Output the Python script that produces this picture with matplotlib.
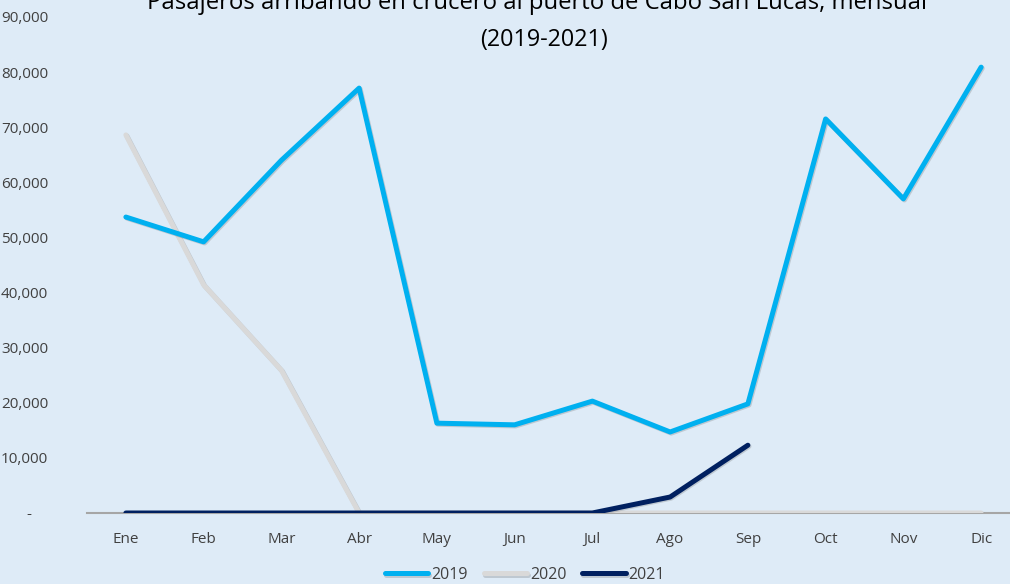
import matplotlib
matplotlib.use("Agg")
import matplotlib.pyplot as plt
import matplotlib.patheffects as pe
from matplotlib.ticker import FuncFormatter
import numpy as np

months = ["Ene", "Feb", "Mar", "Abr", "May", "Jun", "Jul", "Ago", "Sep", "Oct", "Nov", "Dic"]
s2019 = [53700, 49200, 64000, 77100, 16300, 16000, 20300, 14700, 19800, 71500, 57000, 80900]
s2020 = [68600, 41400, 25900, 0, 0, 0, 0, 0, 0, 0, 0, 0]
s2021 = [0, 0, 0, 0, 0, 0, 0, 2900, 12300]
yticks = list(range(0, 90001, 10000))

plt.rcParams['font.family'] = ['Open Sans', 'DejaVu Sans']

bg = "#deebf7"
fig = plt.figure(figsize=(10.1, 5.84), dpi=100, facecolor=bg)
W, H = 1010, 584
left, right, top, bottom = 87, 1020, 17, 513
ax = fig.add_axes([left / W, (H - bottom) / H, (right - left) / W, (bottom - top) / H])
ax.set_facecolor(bg)

x = np.arange(len(months))
shadow = [pe.SimpleLineShadow(offset=(0.8, -0.8), alpha=0.25, shadow_color="#606060"), pe.Normal()]
l1, = ax.plot(x, s2019, color="#00b0f0", lw=3.6, solid_capstyle="round", solid_joinstyle="round",
              path_effects=shadow, label="2019", zorder=3)
l2, = ax.plot(x, s2020, color="#d9d9d9", lw=3.6, solid_capstyle="round", solid_joinstyle="round",
              path_effects=shadow, label="2020", zorder=2)
l3, = ax.plot(x[:len(s2021)], s2021, color="#002060", lw=3.6, solid_capstyle="round", solid_joinstyle="round",
              path_effects=shadow, label="2021", zorder=4)

ax.set_xlim(-0.5, len(months) - 0.5)
ax.set_ylim(0, 90000)
ax.set_xticks(x)
ax.set_xticklabels(months)
ax.set_yticks(yticks)
ax.yaxis.set_major_formatter(FuncFormatter(lambda v, p: "-    " if v == 0 else f"{int(v):,}"))
for s in ["top", "right", "left"]:
    ax.spines[s].set_visible(False)
ax.spines["bottom"].set_color("#a6a6a6")
ax.spines["bottom"].set_linewidth(1.5)
ax.spines["bottom"].set_zorder(1)
ax.tick_params(axis="both", length=0, labelsize=11, colors="#404040")
ax.tick_params(axis="x", pad=14)
ax.tick_params(axis="y", pad=28)

fig.text(537 / W, 1 - 3 / H, "Pasajeros arribando en crucero al puerto de Cabo San Lucas, mensual",
         ha="center", va="center", fontsize=17.2, color="#000000")
fig.text(544 / W, 1 - 40 / H, "(2019-2021)", ha="center", va="center", fontsize=16.8, color="#000000")

leg = fig.legend(handles=[l1, l2, l3], loc="center", bbox_to_anchor=(525 / W, 1 - 575 / H), ncol=3,
                 frameon=False, fontsize=11.5, handlelength=2.7, handletextpad=0.2, columnspacing=1.0)
for t in leg.get_texts():
    t.set_color("#404040")

fig.savefig("out.png", dpi=100, facecolor=bg)
